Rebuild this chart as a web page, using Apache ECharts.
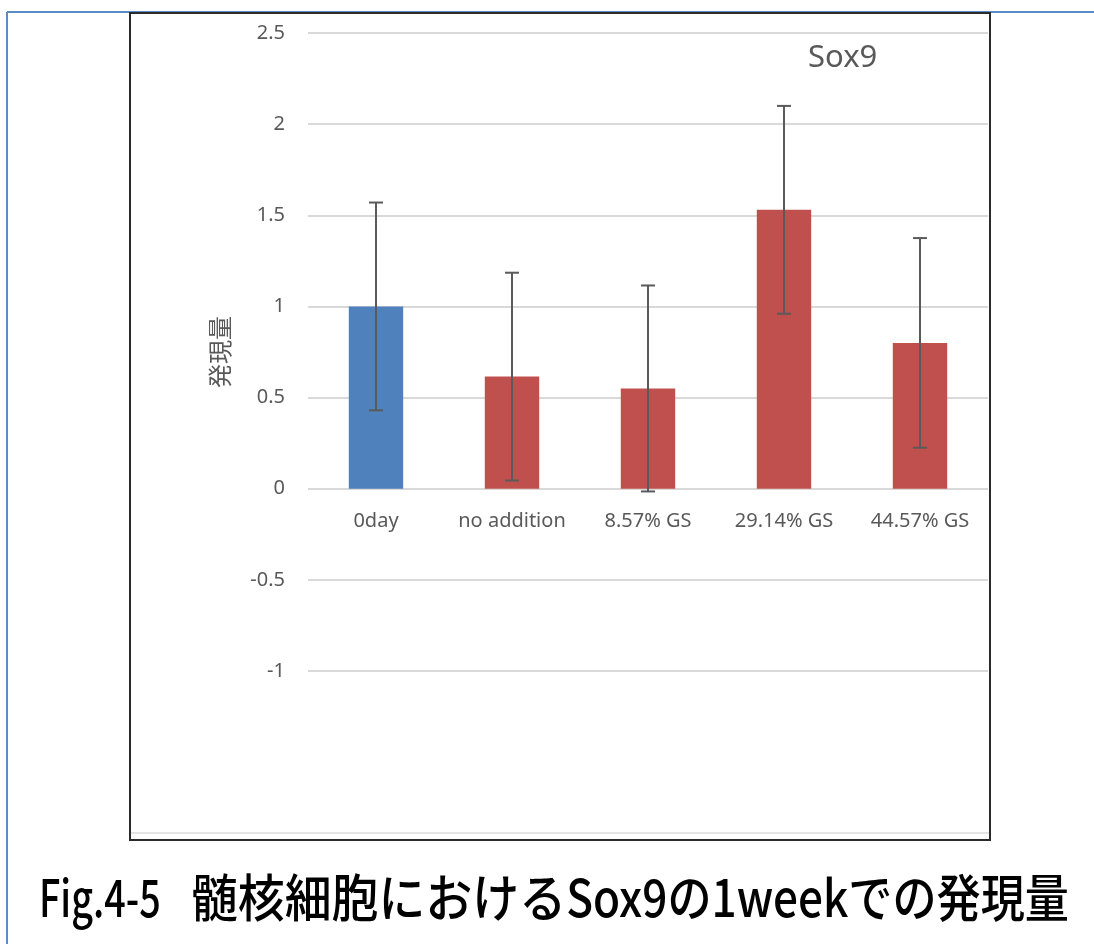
<!DOCTYPE html>
<html>
<head>
<meta charset="utf-8">
<script src="https://cdn.jsdelivr.net/npm/echarts@6/dist/echarts.min.js"></script>
<style>
  html, body { margin: 0; padding: 0; background: #fff; }
  #chart { width: 1094px; height: 944px; }
</style>
</head>
<body>
<div id="chart"></div>
<script>
// Sox9 expression in nucleus pulposus cells after 1 week
const categories = ['0day', 'no addition', '8.57% GS', '29.14% GS', '44.57% GS'];
const expression = [1.0, 0.615, 0.55, 1.53, 0.80];
const errorSize = [0.57, 0.57, 0.565, 0.57, 0.575];
const barColors = ['#4F81BD', '#C0504D', '#C0504D', '#C0504D', '#C0504D'];
const yTicks = { min: -1, max: 2.5, interval: 0.5 };

// caption pieces, each with its own horizontal squeeze
const captionParts = [
  { text: 'Fig.4-5', scale: 0.74, gapAfter: 30 },
  { text: '髄核細胞における', scale: 0.92, gapAfter: 0 },
  { text: 'Sox9の1weekでの発現量', scale: 0.865, gapAfter: 0 }
];

const chart = echarts.init(document.getElementById('chart'), null, { renderer: 'canvas' });

const barData = expression.map((v, i) => ({ value: v, itemStyle: { color: barColors[i] } }));
const errData = expression.map((v, i) => [i, v - errorSize[i], v + errorSize[i]]);
// category labels sit just under the zero line
const labelData = categories.map((c, i) => [i, 0, c]);

const textColor = '#595959';
const baseFont = '"Noto Sans", "Liberation Sans", sans-serif';
const captionFont = '500 51px "Noto Sans CJK JP", sans-serif';

// lay the caption pieces out one after another
const measureCtx = document.createElement('canvas').getContext('2d');
measureCtx.font = captionFont;
let cx = 39;
const captionGraphics = captionParts.map(part => {
  const el = {
    type: 'text', x: cx, y: 898, scaleX: part.scale,
    style: {
      text: part.text, fill: '#000000', font: captionFont,
      textAlign: 'left', textVerticalAlign: 'middle'
    }
  };
  cx += measureCtx.measureText(part.text).width * part.scale + part.gapAfter;
  return el;
});

chart.setOption({
  backgroundColor: '#ffffff',
  animation: false,
  grid: { left: 308, right: 106, top: 33, bottom: 273, containLabel: false },
  title: {
    text: 'Sox9',
    left: 803, top: 38,
    textStyle: { color: textColor, fontSize: 31, fontWeight: 'normal', fontFamily: baseFont }
  },
  xAxis: {
    type: 'category',
    data: categories,
    axisLine: { show: false },
    axisTick: { show: false },
    axisLabel: { show: false }
  },
  yAxis: {
    type: 'value',
    min: yTicks.min, max: yTicks.max, interval: yTicks.interval,
    name: '発現量',
    nameLocation: 'middle',
    nameGap: 76,
    nameRotate: 90,
    nameTextStyle: { color: textColor, fontSize: 24, fontFamily: '"Noto Sans CJK JP", sans-serif' },
    axisLine: { show: false },
    axisTick: { show: false },
    axisLabel: { color: textColor, fontSize: 20, margin: 23, fontFamily: baseFont },
    splitLine: { lineStyle: { color: '#d9d9d9', width: 2 } }
  },
  series: [
    {
      type: 'bar',
      data: barData,
      barWidth: '40%'
    },
    {
      type: 'custom',
      data: errData,
      z: 10,
      renderItem: function (params, api) {
        const x = api.value(0);
        const lo = api.coord([x, api.value(1)]);
        const hi = api.coord([x, api.value(2)]);
        const cap = 7;
        const style = { stroke: '#5a5a5a', lineWidth: 2, fill: null };
        return {
          type: 'group',
          children: [
            { type: 'line', shape: { x1: hi[0], y1: hi[1], x2: lo[0], y2: lo[1] }, style: style },
            { type: 'line', shape: { x1: hi[0] - cap, y1: hi[1], x2: hi[0] + cap, y2: hi[1] }, style: style },
            { type: 'line', shape: { x1: lo[0] - cap, y1: lo[1], x2: lo[0] + cap, y2: lo[1] }, style: style }
          ]
        };
      }
    },
    {
      type: 'custom',
      data: labelData,
      silent: true,
      renderItem: function (params, api) {
        const p = api.coord([api.value(0), api.value(1)]);
        return {
          type: 'text',
          x: p[0], y: p[1] + 33,
          style: {
            text: categories[params.dataIndex],
            fill: textColor,
            font: '20px ' + baseFont,
            textAlign: 'center',
            textVerticalAlign: 'middle'
          }
        };
      }
    }
  ],
  graphic: [
    // outer page frame (blue)
    { type: 'line', shape: { x1: 7, y1: 12, x2: 1094, y2: 12 }, style: { stroke: '#5B8BC9', lineWidth: 2 }, z: 1 },
    { type: 'line', shape: { x1: 7, y1: 12, x2: 7, y2: 944 }, style: { stroke: '#5B8BC9', lineWidth: 2 }, z: 1 },
    // chart box
    { type: 'rect', shape: { x: 130, y: 13, width: 860, height: 827 }, style: { fill: null, stroke: '#2b2b2b', lineWidth: 2 }, z: 2 },
    { type: 'line', shape: { x1: 131, y1: 833, x2: 989, y2: 833 }, style: { stroke: '#e3e3e3', lineWidth: 2 }, z: 2 }
  ].concat(captionGraphics)
});
</script>
</body>
</html>
